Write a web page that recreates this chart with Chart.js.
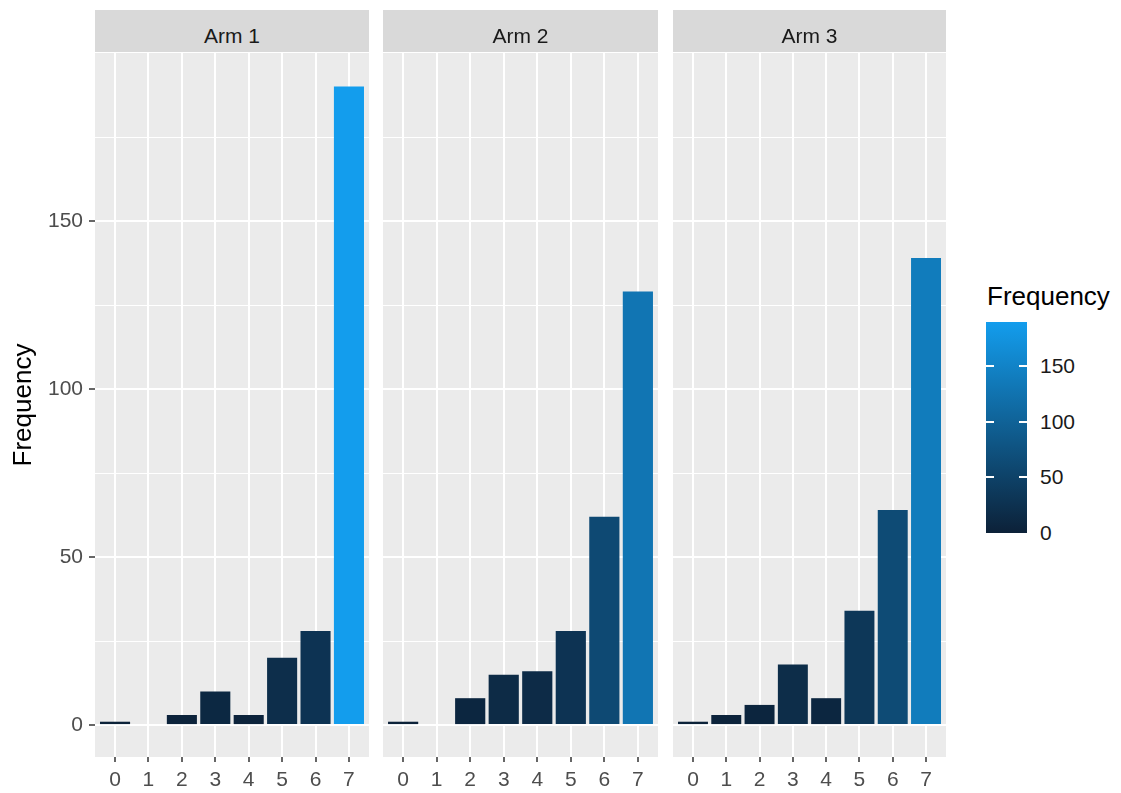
<!DOCTYPE html>
<html>
<head>
<meta charset="utf-8">
<script src="https://cdn.jsdelivr.net/npm/chart.js@4.4.0/dist/chart.umd.min.js"></script>
<style>
  body { margin: 0; background: #fff; width: 1121px; height: 793px; position: relative; overflow: hidden;
         font-family: "Liberation Sans", Arial, sans-serif; }
  canvas { position: absolute; top: 0; }
  .strip { position: absolute; top: 10px; height: 42px; background: #D9D9D9; color: #1A1A1A;
           font-size: 21px; line-height: 24px; text-align: center; box-sizing: border-box; padding-top: 14px; }
  #legendTitle { position: absolute; left: 987px; top: 281px; font-size: 26px; line-height: 30px; color: #000; }
  #colorbar { position: absolute; left: 986px; top: 322px; width: 41px; height: 211px; }
  .ltick { position: absolute; height: 2px; width: 8px; background: #fff; }
  .llabel { position: absolute; left: 1040px; font-size: 21px; line-height: 24px; color: #1A1A1A; transform: translateY(-50%); }
</style>
</head>
<body>
<canvas id="arm1" width="372" height="793" style="left:0px"></canvas>
<canvas id="arm2" width="278" height="793" style="left:383px"></canvas>
<canvas id="arm3" width="276" height="793" style="left:673px"></canvas>
<div id="legendTitle">Frequency</div>
<div id="colorbar"></div>
<script>
// data
const categories = [0, 1, 2, 3, 4, 5, 6, 7];
const armLabels = ['Arm 1', 'Arm 2', 'Arm 3'];
const arm1 = [1, 0, 3, 10, 3, 20, 28, 190];
const arm2 = [1, 0, 8, 15, 16, 28, 62, 129];
const arm3 = [1, 3, 6, 18, 8, 34, 64, 139];
const yTicks = [0, 50, 100, 150];
const yMinorTicks = [25, 75, 125, 175];
const legendTicks = [0, 50, 100, 150];
const fillMax = 190;

// colour scale
const lowColor = [12, 33, 56];
const highColor = [19, 157, 237];
function fillColor(v) {
    const t = Math.max(0, Math.min(1, v / fillMax));
    const c = lowColor.map((l, i) => Math.round(l + (highColor[i] - l) * t));
    return 'rgb(' + c.join(',') + ')';
}

Chart.defaults.font.family = '"Liberation Sans", Arial, sans-serif';

// grey panel background
const panelBg = {
    id: 'panelBg',
    beforeDraw(chart) {
        const a = chart.chartArea;
        chart.ctx.save();
        chart.ctx.fillStyle = '#EBEBEB';
        chart.ctx.fillRect(a.left, a.top, a.right - a.left, a.bottom - a.top);
        chart.ctx.restore();
    }
};

const panels = [
    { id: 'arm1', values: arm1, left: 95, width: 274, showY: true },
    { id: 'arm2', values: arm2, left: 383, width: 275, showY: false },
    { id: 'arm3', values: arm3, left: 673, width: 273, showY: false }
];

panels.forEach(function(p, idx) {
    // strip label
    const strip = document.createElement('div');
    strip.className = 'strip';
    strip.style.left = p.left + 'px';
    strip.style.width = p.width + 'px';
    strip.textContent = armLabels[idx];
    document.body.appendChild(strip);

    const isMajor = v => yTicks.includes(v);

    new Chart(document.getElementById(p.id), {
        type: 'bar',
        data: {
            datasets: [{
                data: categories.map((c, i) => ({ x: c, y: p.values[i] })),
                backgroundColor: p.values.map(fillColor),
                borderWidth: 0,
                barPercentage: 0.9,
                categoryPercentage: 1
            }]
        },
        options: {
            responsive: false,
            animation: false,
            layout: { padding: { top: 53, right: 3, left: 0, bottom: 0 } },
            plugins: { legend: { display: false }, tooltip: { enabled: false } },
            scales: {
                x: {
                    type: 'linear',
                    min: -0.6,
                    max: 7.6,
                    offset: false,
                    afterBuildTicks: s => { s.ticks = categories.map(v => ({ value: v })); },
                    afterFit: s => { s.height = 36; },
                    grid: { offset: false, color: '#FFFFFF', lineWidth: 2, tickColor: '#333333', tickLength: 5, tickWidth: 1.5 },
                    border: { display: false },
                    ticks: { color: '#4D4D4D', font: { size: 21 }, padding: 6, maxRotation: 0, autoSkip: false }
                },
                y: {
                    min: -9.5,
                    max: 200,
                    afterBuildTicks: s => {
                        s.ticks = yTicks.concat(yMinorTicks).sort((a, b) => a - b).map(v => ({ value: v }));
                    },
                    afterFit: s => { s.width = p.showY ? 95 : 0; },
                    grid: {
                        color: '#FFFFFF',
                        lineWidth: ctx => isMajor(ctx.tick.value) ? 2 : 1,
                        drawTicks: p.showY,
                        tickColor: ctx => isMajor(ctx.tick.value) ? '#333333' : 'rgba(0,0,0,0)',
                        tickLength: 6,
                        tickWidth: 1.5
                    },
                    border: { display: false },
                    ticks: {
                        display: p.showY,
                        color: '#4D4D4D',
                        font: { size: 21 },
                        padding: 6,
                        callback: v => isMajor(v) ? String(v) : ''
                    },
                    title: {
                        display: p.showY,
                        text: 'Frequency',
                        color: '#000000',
                        font: { size: 26 },
                        padding: { top: 8, bottom: 0 }
                    }
                }
            }
        },
        plugins: [panelBg]
    });
});

// colour bar legend
const bar = document.getElementById('colorbar');
bar.style.background = 'linear-gradient(to top, ' + fillColor(0) + ', ' + fillColor(fillMax) + ')';
const barTop = 322, barHeight = 211;
legendTicks.forEach(function(v) {
    const y = barTop + barHeight - v / fillMax * barHeight;
    if (v > 0) {
        ['986px', '1019px'].forEach(function(x) {
            const t = document.createElement('div');
            t.className = 'ltick';
            t.style.left = x;
            t.style.top = (y - 1) + 'px';
            document.body.appendChild(t);
        });
    }
    const lab = document.createElement('div');
    lab.className = 'llabel';
    lab.style.top = y + 'px';
    lab.textContent = v;
    document.body.appendChild(lab);
});
</script>
</body>
</html>
